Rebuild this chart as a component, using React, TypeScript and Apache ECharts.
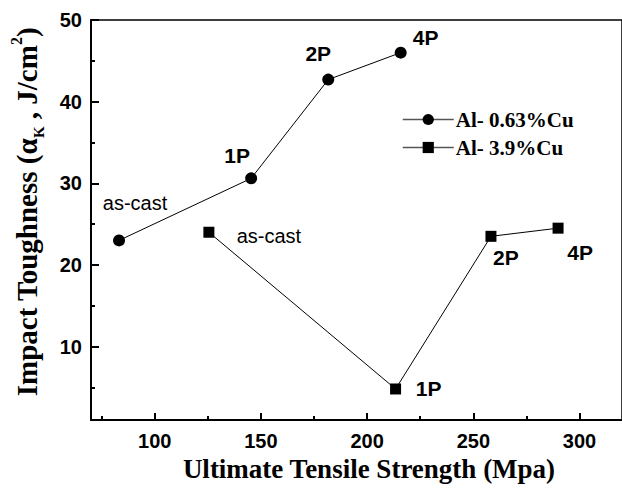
import React, { useEffect, useRef } from "react";
import * as echarts from "echarts";

// Data
const seriesNames = ["Al- 0.63%Cu", "Al- 3.9%Cu"];
const conditions = ["as-cast", "1P", "2P", "4P"];
const strengthLowCu = [83.2, 145.4, 181.7, 215.8];
const toughnessLowCu = [23.0, 30.6, 42.7, 46.0];
const strengthHighCu = [125.5, 213.4, 258.3, 289.9];
const toughnessHighCu = [24.0, 4.8, 23.5, 24.5];

const xMajorTicks = [100, 150, 200, 250, 300];
const xMinorTicks = [75, 125, 175, 225, 275];
const yMajorTicks = [10, 20, 30, 40, 50];
const yMinorTicks = [5, 15, 25, 35, 45];

// label placement (styling, px offsets from marker centre)
const lowCuLabelOffsets = [
  [16, -37],
  [-14, -23],
  [-10, -26],
  [25, -15],
];
const highCuLabelOffsets = [
  [60, 4],
  [33, 0],
  [15, 21],
  [22, 24],
];

const SANS = '"Liberation Sans", Arial, sans-serif';
const SERIF = '"Liberation Serif", "Times New Roman", serif';

function buildData(xs: number[], ys: number[], offsets: number[][]) {
  return xs.map((x, i) => {
    const name = conditions[i];
    const bold = name !== "as-cast";
    return {
      value: [x, ys[i]],
      name,
      label: {
        show: true,
        position: "inside",
        formatter: name,
        offset: offsets[i],
        color: "#000",
        fontFamily: SANS,
        fontSize: bold ? 21 : 20,
        fontWeight: bold ? "bold" : "normal",
      },
    };
  });
}

export default function App() {
  const ref = useRef<HTMLDivElement>(null);
  useEffect(() => {
    if (!ref.current) return;
    const chart = echarts.init(ref.current, undefined, { renderer: "svg" });
    const majorX = {
      type: "value",
      min: 70,
      max: 320,
      position: "bottom",
      axisLine: { show: true, onZero: false, lineStyle: { color: "#000", width: 2 } },
      axisTick: {
        show: true,
        inside: true,
        length: 7,
        customValues: xMajorTicks,
        lineStyle: { color: "#000", width: 2 },
      },
      axisLabel: {
        show: true,
        customValues: xMajorTicks,
        margin: 11,
        color: "#000",
        fontFamily: SANS,
        fontWeight: "bold",
        fontSize: 20,
      },
      splitLine: { show: false },
    };
    const minorX = {
      type: "value",
      min: 70,
      max: 320,
      position: "bottom",
      axisLine: { show: false },
      axisTick: {
        show: true,
        inside: true,
        length: 4,
        customValues: xMinorTicks,
        lineStyle: { color: "#000", width: 2 },
      },
      axisLabel: { show: false },
      splitLine: { show: false },
    };
    const majorY = {
      type: "value",
      min: 1,
      max: 50,
      position: "left",
      axisLine: { show: true, onZero: false, lineStyle: { color: "#000", width: 2 } },
      axisTick: {
        show: true,
        inside: true,
        length: 8,
        customValues: yMajorTicks,
        lineStyle: { color: "#000", width: 2 },
      },
      axisLabel: {
        show: true,
        customValues: yMajorTicks,
        margin: 9,
        color: "#000",
        fontFamily: SANS,
        fontWeight: "bold",
        fontSize: 20,
      },
      splitLine: { show: false },
    };
    const minorY = {
      type: "value",
      min: 1,
      max: 50,
      position: "left",
      axisLine: { show: false },
      axisTick: {
        show: true,
        inside: true,
        length: 4,
        customValues: yMinorTicks,
        lineStyle: { color: "#000", width: 2 },
      },
      axisLabel: { show: false },
      splitLine: { show: false },
    };

    chart.setOption({
      animation: false,
      backgroundColor: "#fff",
      grid: {
        left: 91,
        top: 20,
        width: 536,
        height: 400,
        show: true,
        borderColor: "#000",
        borderWidth: 1.5,
        backgroundColor: "transparent",
      },
      xAxis: [majorX, minorX],
      yAxis: [majorY, minorY],
      legend: {
        left: 397,
        top: 104,
        orient: "vertical",
        itemWidth: 51,
        itemHeight: 14,
        itemGap: 7,
        data: seriesNames,
        lineStyle: { color: "#555", width: 1.5 },
        textStyle: {
          color: "#000",
          fontFamily: SERIF,
          fontWeight: "bold",
          fontSize: 21,
          padding: [0, 0, 0, -3],
        },
      },
      graphic: [
        {
          type: "text",
          x: 369,
          y: 469,
          style: {
            text: "Ultimate Tensile Strength (Mpa)",
            fontFamily: SERIF,
            fontWeight: "bold",
            fontSize: 27,
            fill: "#000",
            align: "center",
            verticalAlign: "middle",
          },
        },
        {
          type: "text",
          x: 27,
          y: 212,
          rotation: Math.PI / 2,
          style: {
            text: "{n|Impact Toughness (α}{s|K}{n| , J/cm}{p|2}{n|)}",
            fill: "#000",
            align: "center",
            verticalAlign: "middle",
            rich: {
              n: {
                fontFamily: SERIF,
                fontWeight: "bold",
                fontSize: 29,
                lineHeight: 38,
                verticalAlign: "middle",
              },
              s: {
                fontFamily: SERIF,
                fontWeight: "bold",
                fontSize: 15,
                lineHeight: 15,
                verticalAlign: "bottom",
              },
              p: {
                fontFamily: SERIF,
                fontWeight: "bold",
                fontSize: 16,
                lineHeight: 16,
                verticalAlign: "top",
              },
            },
          },
        },
      ],
      series: [
        {
          name: seriesNames[0],
          type: "line",
          xAxisIndex: 0,
          yAxisIndex: 0,
          symbol: "circle",
          symbolSize: 12,
          itemStyle: { color: "#000" },
          lineStyle: { color: "#000", width: 1 },
          data: buildData(strengthLowCu, toughnessLowCu, lowCuLabelOffsets),
        },
        {
          name: seriesNames[1],
          type: "line",
          xAxisIndex: 0,
          yAxisIndex: 0,
          symbol: "rect",
          symbolSize: 11,
          itemStyle: { color: "#000" },
          lineStyle: { color: "#000", width: 1 },
          data: buildData(strengthHighCu, toughnessHighCu, highCuLabelOffsets),
        },
      ],
    });
    return () => chart.dispose();
  }, []);
  return (
    <div
      ref={ref}
      style={{ position: "absolute", left: 0, top: 0, width: 622, height: 492 }}
    />
  );
}
